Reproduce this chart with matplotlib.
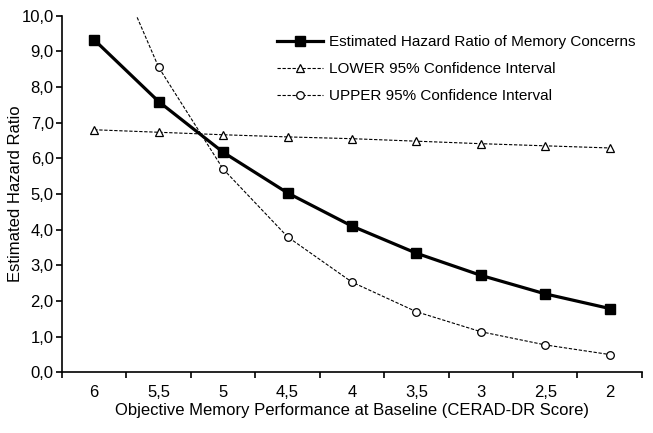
import matplotlib
matplotlib.use("Agg")
import matplotlib.pyplot as plt
import numpy as np

plt.rcParams["font.family"] = ["Liberation Sans", "DejaVu Sans"]

# CERAD-DR score categories (shown high to low)
scores = ["6", "5,5", "5", "4,5", "4", "3,5", "3", "2,5", "2"]
estimated_hr = [9.32, 7.59, 6.17, 5.03, 4.10, 3.34, 2.72, 2.20, 1.79]
lower_ci = [6.80, 6.73, 6.66, 6.60, 6.55, 6.48, 6.41, 6.35, 6.29]
upper_ci = [12.74, 8.55, 5.70, 3.80, 2.53, 1.70, 1.14, 0.77, 0.50]
y_ticks = [0, 1, 2, 3, 4, 5, 6, 7, 8, 9, 10]

fig = plt.figure(figsize=(6.53, 4.33), dpi=100)
ax = fig.add_axes([0.095, 0.140, 0.888, 0.824])

x = np.arange(len(scores))
ax.plot(x, estimated_hr, color="black", lw=2.3, marker="s", ms=6.5,
        label="Estimated Hazard Ratio of Memory Concerns", zorder=4)
ax.plot(x, lower_ci, color="black", lw=0.8, ls=(0, (3, 1.5)), marker="^", ms=6,
        mfc="white", mec="black", mew=0.9,
        label="LOWER 95% Confidence Interval", zorder=3)
ax.plot(x, upper_ci, color="black", lw=0.8, ls=(0, (3, 1.5)), marker="o", ms=5.5,
        mfc="white", mec="black", mew=0.9,
        label="UPPER 95% Confidence Interval", zorder=3)

ax.set_xlim(-0.5, len(scores) - 0.5)
ax.set_ylim(0, 10)
ax.set_xticks(np.arange(len(scores) + 1) - 0.5)
ax.set_xticklabels([])
ax.set_xticks(x, minor=True)
ax.set_xticklabels(scores, minor=True)
ax.tick_params(axis="x", which="major", direction="out", length=4, width=1.2)
ax.tick_params(axis="x", which="minor", length=0, pad=9, labelsize=12)
ax.set_yticks(y_ticks)
ax.set_yticklabels([f"{v:.1f}".replace(".", ",") for v in y_ticks])
ax.tick_params(axis="y", direction="out", length=4, width=1.2, labelsize=12, pad=2)

for side in ("top", "right"):
    ax.spines[side].set_visible(False)
for side in ("left", "bottom"):
    ax.spines[side].set_linewidth(1.2)

ax.set_xlabel("Objective Memory Performance at Baseline (CERAD-DR Score)",
              fontsize=12, labelpad=2)
ax.set_ylabel("Estimated Hazard Ratio", fontsize=12, labelpad=-1)

ax.legend(loc="upper right", frameon=False, fontsize=11, handlelength=3,
          handletextpad=0.4, labelspacing=0.85, borderaxespad=0,
          bbox_to_anchor=(1.0, 0.962))

fig.savefig("out.png", dpi=100)
